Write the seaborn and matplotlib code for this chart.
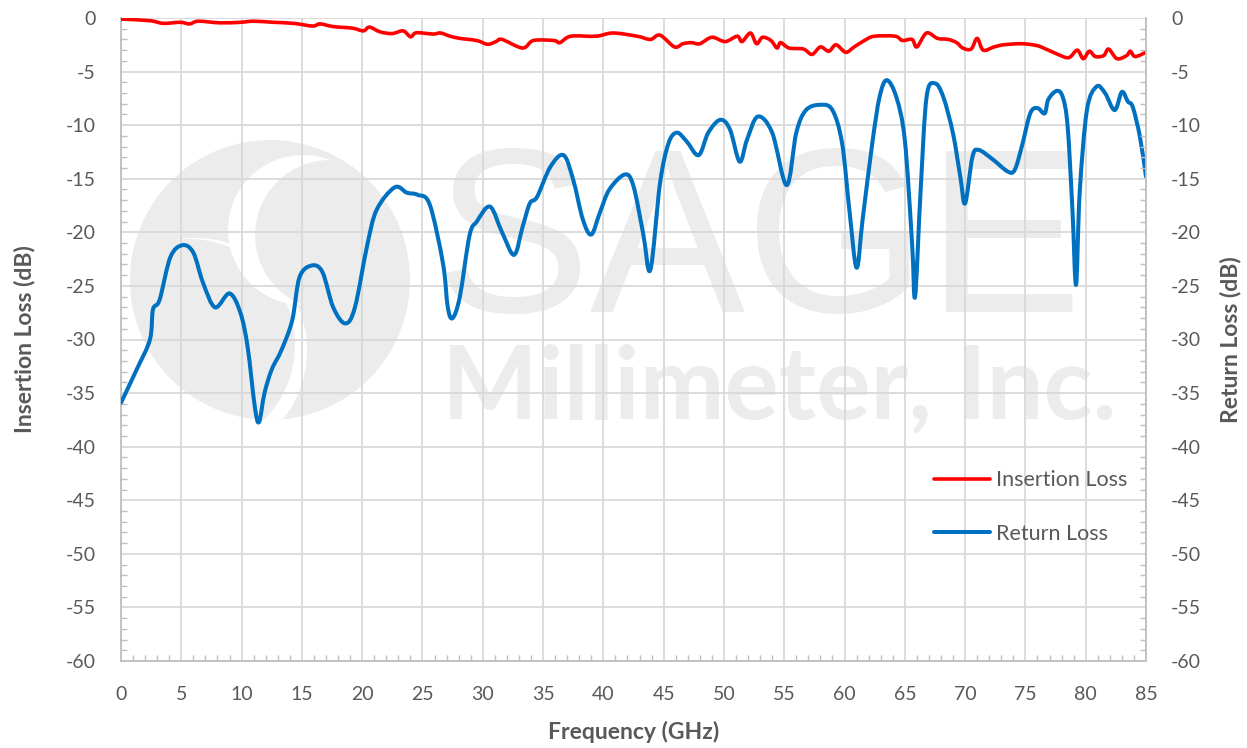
import numpy as np
import pandas as pd
import matplotlib
matplotlib.use('Agg')
import matplotlib.pyplot as plt
import matplotlib.patches as mpatches
from matplotlib.path import Path
from matplotlib.lines import Line2D
from matplotlib.transforms import IdentityTransform
from matplotlib.ticker import MultipleLocator
import seaborn as sns

sns.set_style('white')
plt.rcParams['font.family'] = ['Lato', 'DejaVu Sans']
plt.rcParams['axes.unicode_minus'] = False

# insertion loss (red)
il_freq = [0, 2.4, 3.5, 4.9, 5.7, 6.4, 8.2, 9.9, 11.0, 12.6, 14.3, 15.9, 16.5, 17.6,
           19.2, 20.1, 20.6, 21.5, 22.5, 23.4, 24.0, 24.4, 25.0, 25.9, 26.5, 27.3,
           28.1, 29.5, 30.4, 31.1, 31.6, 33.3, 34.2, 35.9, 36.4, 37.3, 39.4, 40.8,
           42.8, 43.9, 44.7, 45.9, 46.6, 47.3, 48.0, 49.0, 50.1, 51.1, 51.5, 52.2,
           52.7, 53.2, 53.9, 54.4, 54.7, 55.4, 56.6, 57.3, 58.0, 58.7, 59.3, 60.1,
           60.8, 61.8, 62.5, 64.2, 64.8, 65.6, 66.0, 66.8, 67.7, 68.6, 69.3, 69.8,
           70.5, 71.0, 71.5, 72.4, 73.2, 74.6, 75.6, 76.3, 77.7, 78.6, 79.3, 79.8,
           80.3, 80.8, 81.5, 81.9, 82.6, 83.4, 83.7, 84.1, 85.0]
il_db = [-0.1, -0.25, -0.5, -0.4, -0.55, -0.3, -0.45, -0.4, -0.3, -0.4, -0.5, -0.75,
         -0.55, -0.8, -0.95, -1.2, -0.85, -1.3, -1.45, -1.2, -1.75, -1.4, -1.4, -1.5,
         -1.4, -1.7, -1.9, -2.1, -2.45, -2.2, -2.0, -2.8, -2.1, -2.1, -2.3, -1.7,
         -1.7, -1.4, -1.7, -2.0, -1.6, -2.7, -2.4, -2.3, -2.4, -1.8, -2.2, -1.7,
         -2.2, -1.4, -2.4, -1.8, -2.1, -2.8, -2.3, -2.8, -2.9, -3.4, -2.7, -3.1,
         -2.5, -3.2, -2.7, -2.0, -1.7, -1.7, -2.1, -2.0, -2.7, -1.4, -1.9, -2.0,
         -2.3, -2.8, -2.9, -1.9, -3.0, -2.7, -2.5, -2.4, -2.5, -2.7, -3.4, -3.7,
         -3.0, -3.8, -3.1, -3.6, -3.5, -2.9, -3.8, -3.5, -3.1, -3.6, -3.2]

# return loss (blue)
rl_freq = [0, 1.3, 2.4, 2.65, 3.2, 4.1, 5.1, 6.0, 6.8, 7.8, 9.0, 9.9, 10.5, 11.1,
           11.45, 11.9, 12.5, 13.3, 14.2, 14.8, 15.8, 16.7, 17.6, 18.6, 19.4, 20.4,
           21.2, 22.7, 23.7, 24.6, 25.6, 26.7, 27.1, 27.5, 28.1, 28.9, 29.5, 30.6,
           31.6, 32.6, 33.3, 33.9, 34.5, 35.6, 36.7, 37.5, 38.3, 39.0, 39.7, 40.5,
           41.8, 42.5, 43.3, 43.9, 44.7, 45.4, 46.1, 46.9, 47.9, 48.7, 49.7, 50.5,
           51.3, 51.9, 52.8, 54.0, 55.2, 56.0, 56.8, 58.0, 59.0, 59.8, 60.4, 61.0,
           61.5, 62.3, 62.9, 63.5, 64.3, 65.0, 65.6, 65.85, 66.3, 66.8, 67.5, 68.2,
           69.0, 69.6, 70.0, 70.6, 71.1, 72.3, 73.5, 74.1, 74.7, 75.4, 76.0, 76.6,
           76.9, 77.6, 78.1, 78.5, 78.9, 79.2, 79.5, 80.1, 80.9, 81.6, 82.4, 83.0,
           83.5, 83.9, 84.5, 85.0]
rl_db = [-35.9, -32.8, -30.0, -27.2, -26.3, -22.3, -21.2, -21.9, -24.7, -27.0, -25.7,
         -27.5, -30.7, -36.3, -37.7, -35.0, -32.8, -31.0, -28.2, -24.2, -23.1, -23.7,
         -27.0, -28.5, -27.0, -21.3, -17.9, -15.8, -16.3, -16.5, -17.4, -22.9, -27.0,
         -28.0, -26.0, -20.3, -19.0, -17.6, -20.0, -22.1, -19.5, -17.3, -16.7, -13.9,
         -12.8, -15.1, -18.8, -20.2, -18.2, -16.0, -14.6, -15.7, -20.1, -23.5, -15.4,
         -11.7, -10.7, -11.5, -12.8, -10.7, -9.5, -10.4, -13.4, -11.4, -9.2, -10.7,
         -15.6, -10.7, -8.6, -8.1, -8.6, -11.7, -17.9, -23.3, -18.8, -11.7, -7.4,
         -5.8, -7.4, -11.4, -21.0, -26.0, -16.3, -7.4, -6.1, -7.4, -10.8, -14.8,
         -17.3, -13.0, -12.3, -13.2, -14.3, -14.2, -12.0, -8.9, -8.4, -8.9, -7.6,
         -6.8, -7.4, -10.1, -17.9, -24.9, -16.3, -8.6, -6.4, -7.0, -8.6, -6.9, -7.8,
         -8.3, -11.1, -14.8]

il_df = pd.DataFrame({'freq': il_freq, 'db': il_db})
rl_df = pd.DataFrame({'freq': rl_freq, 'db': rl_db})

TXT = '#595959'
GRID = '#d9d9d9'
WM = '#ececec'
RED = '#ff0000'
BLUE = '#0070c0'


def smooth_path(x, y):
    # Excel-style smoothed line: cubic Bezier segments through the points
    pts = np.column_stack([x, y]).astype(float)
    n = len(pts)
    verts = [pts[0]]
    codes = [Path.MOVETO]
    for i in range(n - 1):
        p0 = pts[i - 1] if i > 0 else pts[i]
        p1, p2 = pts[i], pts[i + 1]
        p3 = pts[i + 2] if i + 2 < n else pts[i + 1]
        verts += [p1 + (p2 - p0) / 6, p2 - (p3 - p1) / 6, p2]
        codes += [Path.CURVE4] * 3
    return Path(verts, codes)


fig = plt.figure(figsize=(12.47, 7.48), dpi=100)
ax = fig.add_axes([121 / 1247, 87 / 748, 1025 / 1247, 643 / 748])


# watermark logo, in pixel coords from top-left, under the grid
def disk(cx, cy, r, col, z):
    c = mpatches.Circle((cx, 748 - cy), r, transform=IdentityTransform(),
                        facecolor=col, edgecolor='none', zorder=z)
    ax.add_patch(c)
    return c

big = disk(270, 280, 140, WM, 0.1)
for cx, cy, r, col in [(195, 350, 112, 'white'), (189, 345, 106, WM),
                       (303, 230, 75, 'white'), (330, 235, 75, WM)]:
    disk(cx, cy, r, col, 0.2).set_clip_path(big)

ax.text(434, 748 - 312, 'SAGE', transform=IdentityTransform(), fontsize=168,
        family='Liberation Sans', color=WM, ha='left', va='baseline', zorder=0.2)
ax.text(442, 748 - 418, 'Millimeter, Inc.', transform=IdentityTransform(), fontsize=73,
        color=WM, fontweight='bold', ha='left', va='baseline', zorder=0.2)

sns.lineplot(data=il_df, x='freq', y='db', ax=ax, color=RED, lw=2.6, legend=False)
sns.lineplot(data=rl_df, x='freq', y='db', ax=ax, color=BLUE, lw=2.9, legend=False)
for line in ax.lines:
    line.set_visible(False)
    xd, yd = line.get_xdata(), line.get_ydata()
    ax.add_patch(mpatches.PathPatch(smooth_path(xd, yd), fill=False,
                                    edgecolor=line.get_color(), lw=line.get_linewidth(),
                                    capstyle='round', joinstyle='round', zorder=3))

ax.set_xlim(0, 85)
ax.set_ylim(-60, 0)
ax.xaxis.set_major_locator(MultipleLocator(5))
ax.xaxis.set_minor_locator(MultipleLocator(1))
ax.yaxis.set_major_locator(MultipleLocator(5))
ax.yaxis.set_minor_locator(MultipleLocator(1))
ax.set_axisbelow(True)
ax.grid(True, which='major', color=GRID, lw=1.3)
ax.tick_params(which='major', length=0, pad=18, labelsize=14, labelcolor=TXT)
ax.tick_params(which='minor', direction='in', length=4, color='#bfbfbf', width=1)
ax.tick_params(axis='y', which='minor', left=True)
ax.tick_params(axis='x', which='minor', bottom=True)
for s in ['top', 'right']:
    ax.spines[s].set_visible(False)
for s in ['left', 'bottom']:
    ax.spines[s].set_color('#bfbfbf')
    ax.spines[s].set_linewidth(1.3)

ax.set_xlabel('Frequency (GHz)', fontsize=16.5, fontweight='bold', color=TXT, labelpad=13)
ax.set_ylabel('Insertion Loss (dB)', fontsize=16.5, fontweight='bold', color=TXT, labelpad=22)

ax2 = ax.twinx()
ax2.set_ylim(-60, 0)
ax2.yaxis.set_major_locator(MultipleLocator(5))
ax2.yaxis.set_minor_locator(MultipleLocator(1))
ax2.tick_params(which='major', length=0, pad=18, labelsize=14, labelcolor=TXT)
ax2.tick_params(which='minor', direction='in', length=4, color='#bfbfbf', width=1, right=True)
for s in ['top', 'left', 'bottom']:
    ax2.spines[s].set_visible(False)
ax2.spines['right'].set_color('#bfbfbf')
ax2.spines['right'].set_linewidth(1.3)
ax2.set_ylabel('Return Loss (dB)', fontsize=16.5, fontweight='bold', color=TXT,
               rotation=90, labelpad=13)

handles = [Line2D([], [], color=RED, lw=2.6), Line2D([], [], color=BLUE, lw=2.9)]
fig.legend(handles, ['Insertion Loss', 'Return Loss'], loc='center left',
           bbox_to_anchor=(934 / 1247, (748 - 507) / 748), frameon=False,
           fontsize=15.5, handlelength=2.6, handletextpad=0.3, labelspacing=1.55,
           borderpad=0, borderaxespad=0, labelcolor=TXT)

fig.savefig('out.png', dpi=100)
